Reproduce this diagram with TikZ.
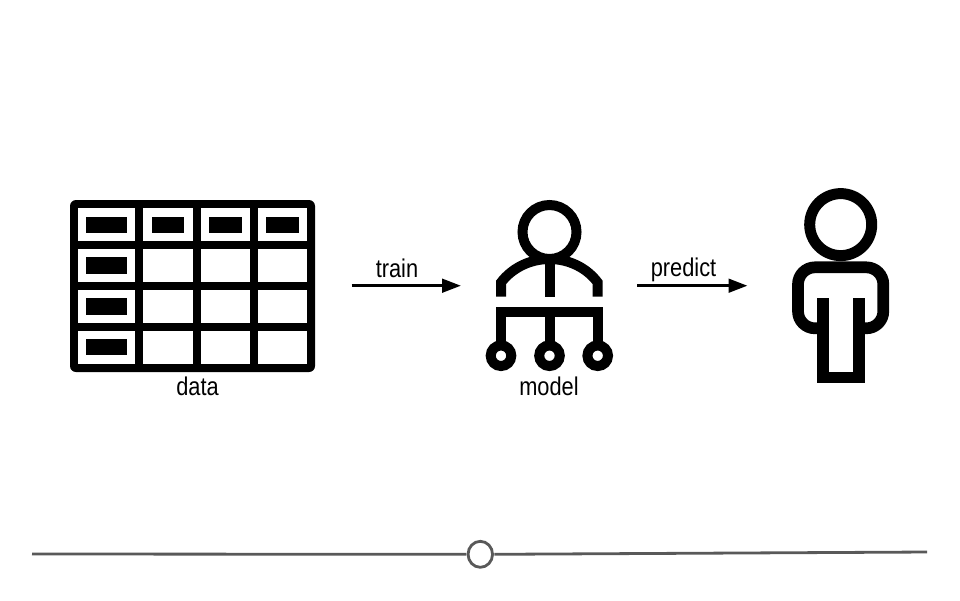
\documentclass[tikz,border=0pt]{standalone}
\usepackage{fontspec}
\setmainfont[FakeStretch=0.85]{Liberation Sans}
\usetikzlibrary{arrows.meta,shapes.geometric}
\definecolor{mygray}{RGB}{89,89,89}
\tikzset{%
    lab/.style={%
        font=\fontsize{14.6}{16}\selectfont, inner sep=0pt, text=black
    }
}
\tikzset{%
    cell/.style={fill=white},
    bar/.style={fill=black},
    icon/.style={draw=black, line width=10*0.02cm, line cap=butt},
    limb/.style={draw=black, line width=11.7*0.02cm, line cap=butt},
    flow/.style={-{Triangle[length=19*0.02cm,width=13.5*0.02cm,sharp]}, line width=3.2*0.02cm},
    track/.style={draw=mygray, line width=2.8*0.02cm}
}
\begin{document}
\begin{tikzpicture}[x=0.02cm,y=-0.02cm]
  \useasboundingbox (0,0) rectangle (960,600);
  %
  % data table
  \fill[black, rounded corners=6*0.02cm] (70,200) rectangle (315,372);
  \foreach \ytop/\ybot in {208/241, 249.3/282, 290/322.7, 331/363.7} {
    \foreach \xl/\xr in {78.3/135.3, 143.3/192.7, 200.7/249.7, 258/307} {
      \fill[cell] (\xl,\ytop) rectangle (\xr,\ybot);
    }
  }
  \foreach \xl/\xr in {151.7/184.3, 209/241.7, 266.3/298.7} {
    \fill[bar] (\xl,216.7) rectangle (\xr,233);
  }
  \foreach \ytop/\ybot in {216.7/233, 257.3/273.7, 298.3/314.7, 339/355.3} {
    \fill[bar] (86.3,\ytop) rectangle (127.3,\ybot);
  }
  \node[lab] (data) at (197.5,386) {data};
  %
  % model
  \draw[icon] (549.5,232) circle (27);
  \draw[icon] (501,296.7) -- (501,282.5) .. controls (512,268) and (530,259) .. (549.5,259)
     .. controls (569,259) and (587,268) .. (597.7,282.5) -- (597.7,296.7);
  \draw[icon] (549.5,259) -- (549.5,296.7);
  \draw[icon] (496,312.3) -- (602.7,312.3);
  \foreach \xc in {501,549.5,597.7} {
    \draw[icon] (\xc,312) -- (\xc,346);
    \draw[icon] (\xc,355.7) circle (10.3);
  }
  \node[lab] (model) at (549,386) {model};
  %
  % person
  \draw[icon, line width=11*0.02cm] (840.7,224.6) circle (31);
  \draw[limb, miter limit=10] (822.7,298) -- (822.7,377.5) -- (859.3,377.5) -- (859.3,298);
  \draw[limb, rounded corners=17*0.02cm] (822.7,328.3) -- (798,328.3) -- (798,267.3) -- (883.3,267.3) -- (883.3,328.3) -- (859.3,328.3);
  %
  % arrows
  \coordinate (trainA) at (351.7,285.7);
  \coordinate (trainB) at (461,285.7);
  \coordinate (predictA) at (637.3,285.7);
  \coordinate (predictB) at (747.5,285.7);
  \draw[flow] (trainA) -- (trainB);
  \draw[flow] (predictA) -- (predictB);
  \node[lab] (train) at (397,268) {train};
  \node[lab] (predict) at (683.5,269.5) {predict};
  %
  % slider
  \node[draw=mygray, ellipse, line width=2.8*0.02cm, minimum width=24.5*0.02cm, minimum height=26*0.02cm, inner sep=0pt, outer sep=1pt] (knob) at (480.3,554.3) {};
  \coordinate (trackL) at (32,554);
  \coordinate (trackR) at (927,552);
  \draw[track] (trackL) -- (knob.west);
  \draw[track] (knob.east) -- (trackR);
\end{tikzpicture}
\end{document}
